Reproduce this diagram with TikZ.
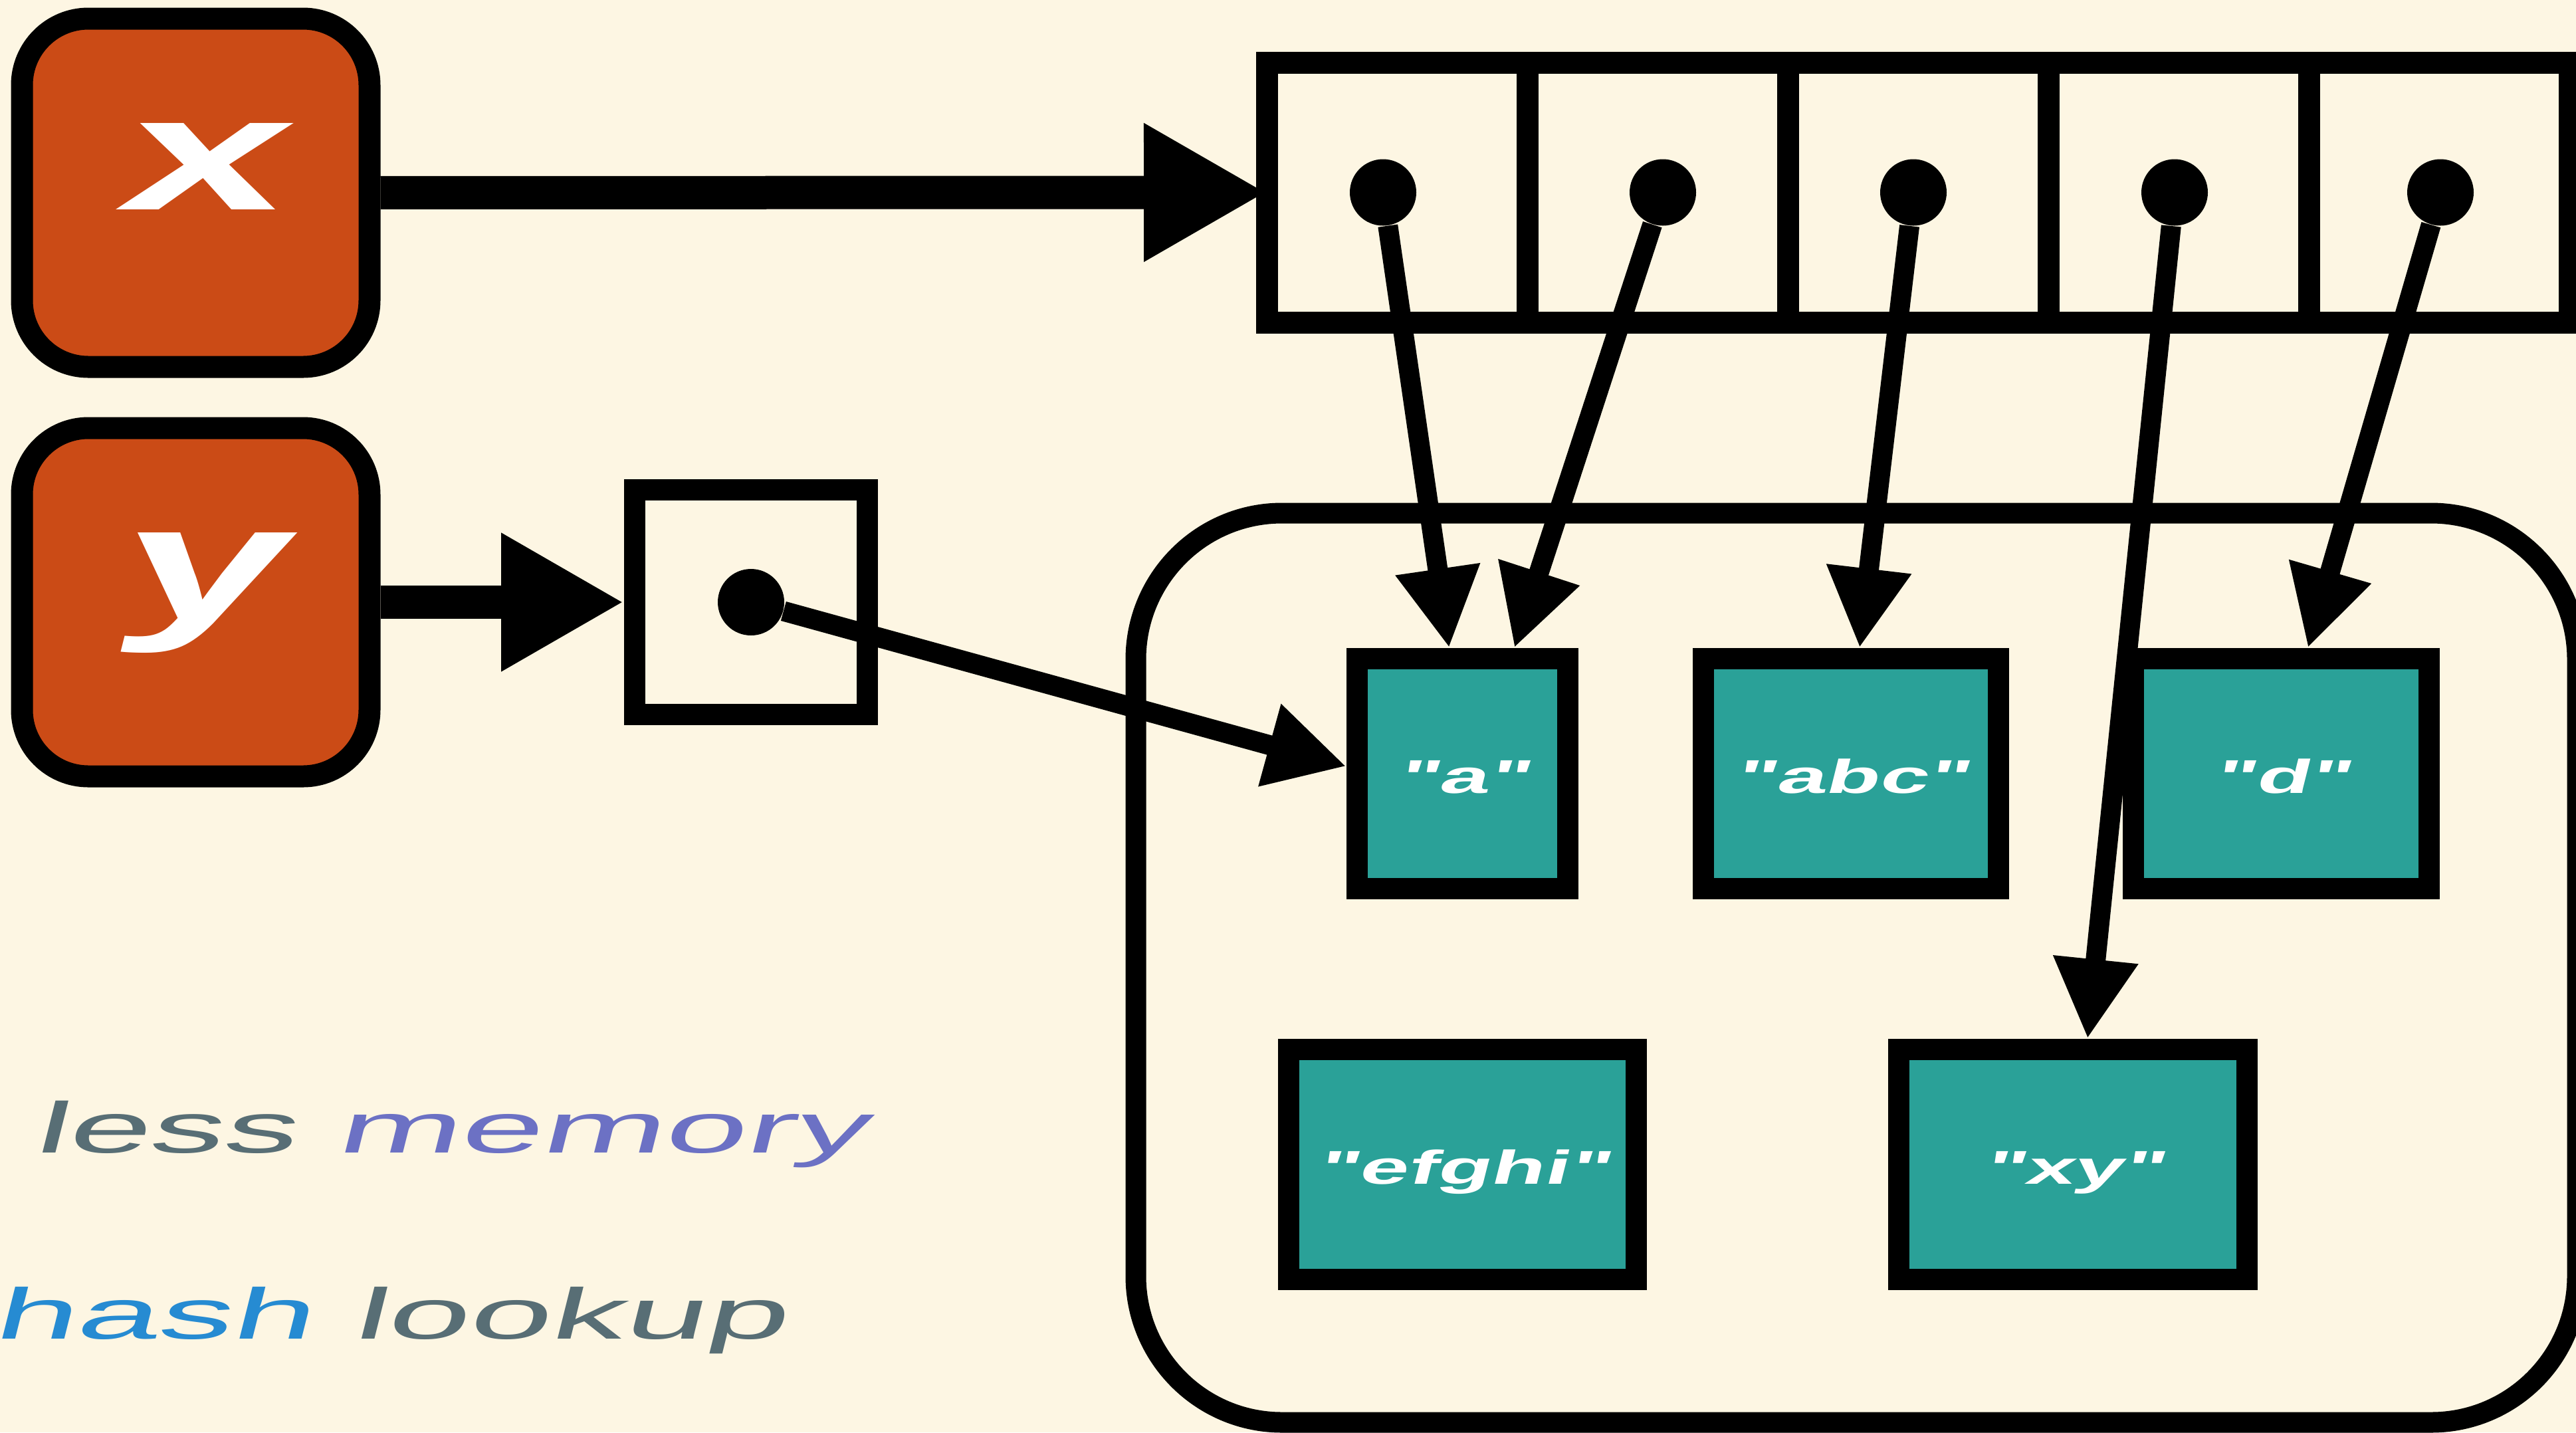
\documentclass[tikz,border=0pt]{standalone}
\usepackage{fontspec}
\usetikzlibrary{arrows.meta, positioning}
\newfontfamily\varfont[FakeStretch=1.8,FakeSlant=0.25]{Liberation Sans Bold}
\newfontfamily\strfont[FakeStretch=1.85,FakeSlant=0.25]{Liberation Sans Bold}
\newfontfamily\notefont[FakeStretch=2.05,FakeSlant=0.25]{Liberation Sans}
\definecolor{Paper}{HTML}{FDF6E3}
\definecolor{Rust}{HTML}{CB4B16}
\definecolor{Teal}{HTML}{2AA198}
\definecolor{Slate}{HTML}{586E75}
\definecolor{NoteViolet}{HTML}{6C71C4}
\definecolor{SkyBlue}{HTML}{268BD2}

\begin{document}
\begin{tikzpicture}[
    var/.style={rectangle, rounded corners=1cm, draw=black, fill=Rust, line width=0.33cm, minimum width=5.23cm, minimum height=5.24cm, text=white, text height=0.5cm, text depth=0cm, font=\varfont\fontsize{70}{70}\selectfont},
    cell/.style={rectangle, draw=black, line width=0.33cm, minimum width=3.92cm, minimum height=3.91cm, outer sep=0pt},
    dot/.style={circle, fill=black, minimum size=1cm, inner sep=0pt},
    strbox/.style={rectangle, draw=black, fill=Teal, line width=0.32cm, minimum height=3.46cm, text=white, text height=0.58cm, text depth=0cm, font=\strfont\fontsize{20.3}{20.3}\selectfont},
    heap/.style={rectangle, rounded corners=2.2cm, draw=black, line width=0.31cm, minimum width=21.69cm, minimum height=13.68cm},
    ptr/.style={line width=0.3cm, -{Triangle[length=1.2cm, width=1.2cm]}},
    fat/.style={line width=0.5cm, -{Triangle[length=1.85cm, width=1.95cm]}},
    remark/.style={anchor=base west, inner sep=0pt, font=\notefont\fontsize{30.7}{30.7}\selectfont}
]
    \useasboundingbox (0,0) rectangle (38.76,-21.55);
    \fill[Paper] (0,0) rectangle (38.76,-21.55);

    \node[heap] (heap) at (27.935,-14.56) {};

    \node[var] (xvar) at (2.945,-2.90) {x};
    \node[var] (yvar) at (2.945,-9.06) {y};

    \node[cell] (c1) at (21.02,-2.895) {};
    \foreach \i [count=\j from 1] in {2,...,5}
        \node[cell, right=0pt of c\j] (c\i) {};
    \node[cell, line width=0.32cm, minimum width=3.50cm, minimum height=3.38cm, outer sep=0.16cm] (ycell) at (11.30,-9.06) {};

    \node[strbox, minimum width=3.17cm] (sa) at (22.005,-11.64) {"a"};
    \node[strbox, minimum width=4.44cm] (sabc) at (27.85,-11.64) {"abc"};
    \node[strbox, minimum width=4.45cm] (sd) at (34.325,-11.64) {"d"};
    \node[strbox, minimum width=5.23cm] (sefghi) at (22.005,-17.52) {"efghi"};
    \node[strbox, minimum width=5.24cm] (sxy) at (31.19,-17.52) {"xy"};

    \foreach \i/\dx in {1/-0.21, 2/0.08, 3/-0.07, 4/-0.06, 5/0.02}
        \node[dot] (p\i) at ([xshift=\dx cm]c\i.center) {};
    \node[dot] (ydot) at (ycell.center) {};

    \draw[fat] (xvar) -- (c1.west);
    \draw[fat] (yvar) -- (ycell);

    \draw[ptr] (p1) -- ([xshift=-0.2cm]sa.north);
    \draw[ptr] (p2) -- ([xshift=0.78cm]sa.north);
    \draw[ptr] (p3) -- ([xshift=0.13cm]sabc.north);
    \draw[ptr] (p4) -- ([xshift=0.22cm]sxy.north);
    \draw[ptr] (p5) -- ([xshift=0.4cm]sd.north);
    \draw[ptr] (ydot) -- ([yshift=0.11cm]sa.west);

    \node[remark] (lessmem) at (0.49,-17.34) {\textcolor{Slate}{less} \textcolor{NoteViolet}{memory}};
    \node[remark] (hashlook) at (-0.12,-20.14) {\textcolor{SkyBlue}{hash} \textcolor{Slate}{lookup}};
\end{tikzpicture}
\end{document}
